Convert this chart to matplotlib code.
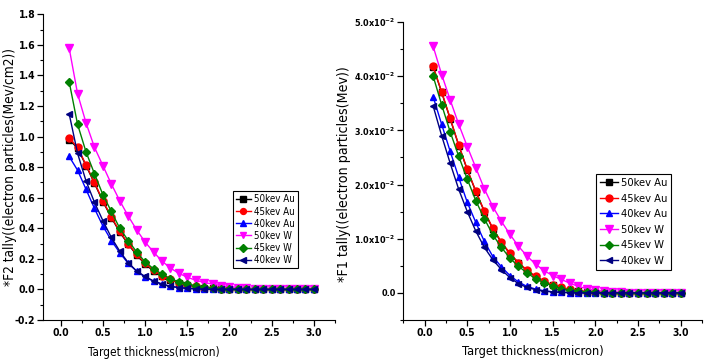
import numpy as np
import matplotlib
matplotlib.use('Agg')
import matplotlib.pyplot as plt
from matplotlib import ticker, font_manager

# pick a narrow sans font if one is installed (the original uses Arial Narrow-like text)
font_names = {f.name for f in font_manager.fontManager.ttflist}
narrow_stretch = 'normal'
if 'Liberation Sans Narrow' in font_names:
    base_family = ['Liberation Sans Narrow', 'DejaVu Sans']
elif any(f.name == 'DejaVu Sans' and 'ondensed' in f.fname for f in font_manager.fontManager.ttflist):
    base_family = ['DejaVu Sans']
    narrow_stretch = 'condensed'
else:
    base_family = ['Liberation Sans', 'DejaVu Sans']

plt.rcParams['font.family'] = base_family
plt.rcParams['font.stretch'] = narrow_stretch
plt.rcParams['mathtext.default'] = 'regular'

# ------------------- data -------------------
thickness = [0.1, 0.2, 0.3, 0.4, 0.5, 0.6, 0.7, 0.8, 0.9, 1.0,
             1.1, 1.2, 1.3, 1.4, 1.5, 1.6, 1.7, 1.8, 1.9, 2.0,
             2.1, 2.2, 2.3, 2.4, 2.5, 2.6, 2.7, 2.8, 2.9, 3.0]

series_names = ['50kev Au', '45kev Au', '40kev Au', '50kev W', '45kev W', '40kev W']

# *F2 tally (Mev/cm2)
f2_50au = [0.98, 0.925, 0.81, 0.695, 0.575, 0.47, 0.375, 0.295, 0.225, 0.165,
           0.12, 0.088, 0.062, 0.043, 0.029, 0.019, 0.011, 0.007, 0.004, 0.002,
           0.001, 0, 0, 0, 0, 0, 0, 0, 0, 0]
f2_45au = [0.99, 0.93, 0.815, 0.70, 0.58, 0.475, 0.38, 0.30, 0.23, 0.17,
           0.125, 0.09, 0.065, 0.045, 0.03, 0.02, 0.012, 0.007, 0.004, 0.002,
           0.001, 0, 0, 0, 0, 0, 0, 0, 0, 0]
f2_40au = [0.87, 0.78, 0.655, 0.53, 0.415, 0.32, 0.24, 0.17, 0.12, 0.08,
           0.055, 0.035, 0.02, 0.012, 0.007, 0.004, 0.002, 0.001, 0, 0,
           0, 0, 0, 0, 0, 0, 0, 0, 0, 0]
f2_50w = [1.58, 1.28, 1.09, 0.93, 0.81, 0.69, 0.58, 0.48, 0.39, 0.31,
          0.245, 0.185, 0.14, 0.105, 0.08, 0.06, 0.045, 0.035, 0.025, 0.018,
          0.012, 0.008, 0.005, 0.003, 0.002, 0.001, 0, 0, 0, 0]
f2_45w = [1.36, 1.08, 0.90, 0.757, 0.62, 0.51, 0.40, 0.32, 0.245, 0.18,
          0.135, 0.10, 0.07, 0.05, 0.035, 0.025, 0.016, 0.01, 0.006, 0.004,
          0.002, 0.001, 0, 0, 0, 0, 0, 0, 0, 0]
f2_40w = [1.15, 0.89, 0.71, 0.57, 0.45, 0.34, 0.25, 0.175, 0.12, 0.085,
          0.055, 0.035, 0.02, 0.012, 0.007, 0.004, 0.002, 0.001, 0, 0,
          0, 0, 0, 0, 0, 0, 0, 0, 0, 0]

# *F1 tally (Mev), values in units of 1e-2
f1_50au = [4.17, 3.70, 3.21, 2.72, 2.27, 1.87, 1.50, 1.18, 0.93, 0.72,
           0.55, 0.41, 0.30, 0.21, 0.14, 0.09, 0.06, 0.035, 0.02, 0.01,
           0.005, 0, 0, 0, 0, 0, 0, 0, 0, 0]
f1_45au = [4.18, 3.71, 3.22, 2.73, 2.28, 1.88, 1.51, 1.19, 0.94, 0.73,
           0.56, 0.42, 0.31, 0.22, 0.15, 0.10, 0.065, 0.04, 0.025, 0.012,
           0.006, 0, 0, 0, 0, 0, 0, 0, 0, 0]
f1_40au = [3.62, 3.11, 2.61, 2.13, 1.67, 1.30, 0.95, 0.67, 0.48, 0.32,
           0.20, 0.12, 0.07, 0.04, 0.02, 0.01, 0.005, 0, 0, 0,
           0, 0, 0, 0, 0, 0, 0, 0, 0, 0]
f1_50w = [4.55, 4.03, 3.56, 3.11, 2.70, 2.31, 1.92, 1.59, 1.32, 1.08,
          0.86, 0.68, 0.53, 0.41, 0.32, 0.25, 0.18, 0.12, 0.08, 0.05,
          0.03, 0.02, 0.01, 0.005, 0, 0, 0, 0, 0, 0]
f1_45w = [4.00, 3.47, 2.97, 2.52, 2.10, 1.70, 1.37, 1.07, 0.84, 0.64,
          0.49, 0.37, 0.26, 0.19, 0.13, 0.08, 0.05, 0.03, 0.015, 0.008,
          0.004, 0, 0, 0, 0, 0, 0, 0, 0, 0]
f1_40w = [3.45, 2.90, 2.39, 1.91, 1.50, 1.14, 0.84, 0.61, 0.43, 0.28,
          0.17, 0.10, 0.06, 0.03, 0.02, 0.01, 0.005, 0, 0, 0,
          0, 0, 0, 0, 0, 0, 0, 0, 0, 0]

f2_data = [f2_50au, f2_45au, f2_40au, f2_50w, f2_45w, f2_40w]
f1_data = [f1_50au, f1_45au, f1_40au, f1_50w, f1_45w, f1_40w]

colors = ['black', 'red', 'blue', 'magenta', 'green', 'navy']
markers = ['s', 'o', '^', 'v', 'D', '<']
msizes = [4.5, 5, 5, 5.5, 4.5, 5]

fig = plt.figure(figsize=(7.08, 3.61), dpi=100)
ax1 = fig.add_axes([0.0607, 0.1136, 0.4124, 0.8468])
ax2 = fig.add_axes([0.5696, 0.1136, 0.4219, 0.8255])


def style_axis(ax, xsize, ysize):
    ax.spines['top'].set_visible(False)
    ax.spines['right'].set_visible(False)
    ax.tick_params(which='major', direction='out', length=4, width=0.9, pad=1.5)
    ax.tick_params(which='minor', direction='out', length=2, width=0.8)
    ax.tick_params(axis='x', labelsize=xsize)
    ax.tick_params(axis='y', labelsize=ysize)
    ax.xaxis.set_major_locator(ticker.MultipleLocator(0.5))
    ax.xaxis.set_minor_locator(ticker.MultipleLocator(0.25))
    ax.xaxis.set_major_formatter(ticker.FormatStrFormatter('%.1f'))
    for t in ax.get_xticklabels() + ax.get_yticklabels():
        t.set_fontweight('bold')


# ------------------- left panel: *F2 -------------------
for vals, c, m, ms, name in zip(f2_data, colors, markers, msizes, series_names):
    ax1.plot(thickness, vals, color=c, marker=m, ms=ms, lw=1.0, label=name)
ax1.set_xlim(-0.21, 3.25)
ax1.set_ylim(-0.2, 1.8)
ax1.yaxis.set_major_locator(ticker.MultipleLocator(0.2))
ax1.yaxis.set_minor_locator(ticker.MultipleLocator(0.1))
ax1.yaxis.set_major_formatter(ticker.FormatStrFormatter('%.1f'))
style_axis(ax1, 7.5, 7.5)
ax1.set_xlabel('Target thickness(micron)', fontsize=8.5, labelpad=0)
ax1.xaxis.set_label_coords(0.378, -0.085)
ax1.set_ylabel('*F2 tally((electron particles(Mev/cm2))', fontsize=9.8)
ax1.yaxis.set_label_coords(-0.088, 0.5)
leg1 = ax1.legend(loc='lower left', bbox_to_anchor=(0.65, 0.17), fontsize=7,
                  frameon=True, fancybox=False, edgecolor='black', framealpha=1,
                  handlelength=1.6, handletextpad=0.3, labelspacing=0.22,
                  borderpad=0.3, borderaxespad=0, markerscale=0.85)
leg1.get_frame().set_linewidth(0.8)

# ------------------- right panel: *F1 -------------------
for vals, c, m, ms, name in zip(f1_data, colors, markers, msizes, series_names):
    ax2.plot(thickness, np.array(vals) * 1e-2, color=c, marker=m, ms=ms, lw=1.0, label=name)
ax2.set_xlim(-0.25, 3.25)
ax2.set_ylim(-0.005, 0.05)
ax2.yaxis.set_major_locator(ticker.MultipleLocator(0.01))
ax2.yaxis.set_minor_locator(ticker.MultipleLocator(0.005))


def sci_fmt(v, pos):
    if abs(v) < 1e-9:
        return '0.0'
    return '%.1fx10$^{-2}$' % (v * 100)


ax2.yaxis.set_major_formatter(ticker.FuncFormatter(sci_fmt))
style_axis(ax2, 7.5, 6.5)
ax2.set_xlabel('Target thickness(micron)', fontsize=9.2, labelpad=0)
ax2.xaxis.set_label_coords(0.434, -0.085)
ax2.set_ylabel('*F1 tally((electron particles(Mev))', fontsize=10.2)
ax2.yaxis.set_label_coords(-0.176, 0.49)
leg2 = ax2.legend(loc='lower left', bbox_to_anchor=(0.645, 0.168), fontsize=8,
                  frameon=True, fancybox=False, edgecolor='black', framealpha=1,
                  handlelength=1.6, handletextpad=0.3, labelspacing=0.5,
                  borderpad=0.35, borderaxespad=0)
leg2.get_frame().set_linewidth(0.8)

fig.savefig('out.png', dpi=100)
